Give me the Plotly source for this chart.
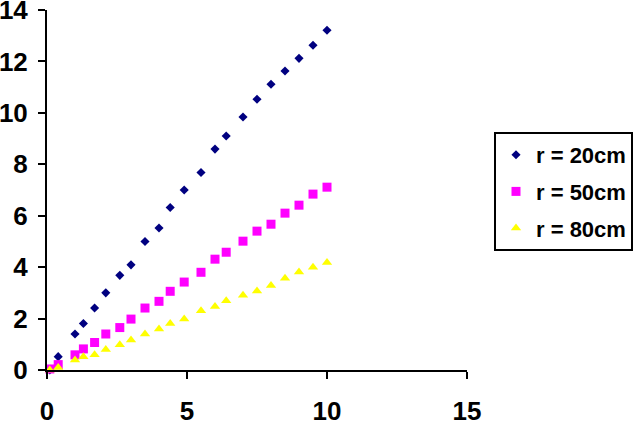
import plotly.graph_objects as go

# distance values (shared by all series)
x_vals = [0.1, 0.4, 1.0, 1.3, 1.7, 2.1, 2.6, 3.0, 3.5, 4.0, 4.4, 4.9, 5.5, 6.0, 6.4,
          7.0, 7.5, 8.0, 8.5, 9.0, 9.5, 10.0]

r20_vals = [0.0, 0.52, 1.40, 1.81, 2.41, 3.00, 3.68, 4.09, 5.00, 5.52, 6.32, 7.00, 7.68,
            8.59, 9.10, 9.84, 10.53, 11.11, 11.63, 12.12, 12.63, 13.21]
r50_vals = [0.04, 0.21, 0.59, 0.82, 1.07, 1.40, 1.65, 1.98, 2.41, 2.67, 3.06, 3.42, 3.80,
            4.31, 4.58, 5.01, 5.40, 5.67, 6.10, 6.41, 6.84, 7.11]
r80_vals = [0.0, 0.10, 0.39, 0.52, 0.59, 0.80, 0.98, 1.17, 1.40, 1.59, 1.81, 1.98, 2.30,
            2.47, 2.69, 2.91, 3.07, 3.29, 3.57, 3.81, 4.00, 4.18]

series_names = ["r = 20cm", "r = 50cm", "r = 80cm"]
x_ticks = [0, 5, 10, 15]
y_ticks = [0, 2, 4, 6, 8, 10, 12, 14]

FONT = "Liberation Sans, Arial, sans-serif"

styles = [
    dict(symbol="diamond", color="#000080", size=7),
    dict(symbol="square", color="#FF00FF", size=9),
    dict(symbol="triangle-up", color="#FFFF00", size=9),
]

fig = go.Figure()
for name, ys, st, grp in zip(series_names, [r20_vals, r50_vals, r80_vals], styles, ["a", "b", "c"]):
    fig.add_trace(go.Scatter(
        x=x_vals, y=ys, mode="markers", name=name, legendgroup=grp,
        cliponaxis=False,
        marker=dict(symbol=st["symbol"], color=st["color"], size=st["size"],
                    line=dict(width=0)),
    ))

axis_common = dict(
    showline=True, linecolor="black", linewidth=2, mirror=False,
    ticks="outside", ticklen=7, tickwidth=2, tickcolor="black",
    showgrid=False, zeroline=False, automargin=False,
    ticklabeloverflow="allow",
    tickfont=dict(family=FONT, size=26, color="black", weight="bold"),
)

fig.update_layout(
    width=636, height=427,
    margin=dict(l=47, r=169, t=10, b=57),
    plot_bgcolor="white", paper_bgcolor="white",
    xaxis=dict(range=[0, 15], tickvals=x_ticks, ticklabelstandoff=10, **axis_common),
    yaxis=dict(range=[0, 14], tickvals=y_ticks, ticklabelstandoff=5, **axis_common),
    legend=dict(
        xref="container", yref="container",
        x=494 / 636, y=1 - 132 / 427, xanchor="left", yanchor="top",
        bordercolor="black", borderwidth=2, bgcolor="white",
        font=dict(family=FONT, size=22, color="black", weight="bold"),
        traceorder="grouped", tracegroupgap=5,
    ),
    showlegend=True,
)

fig.write_html("out.html")
